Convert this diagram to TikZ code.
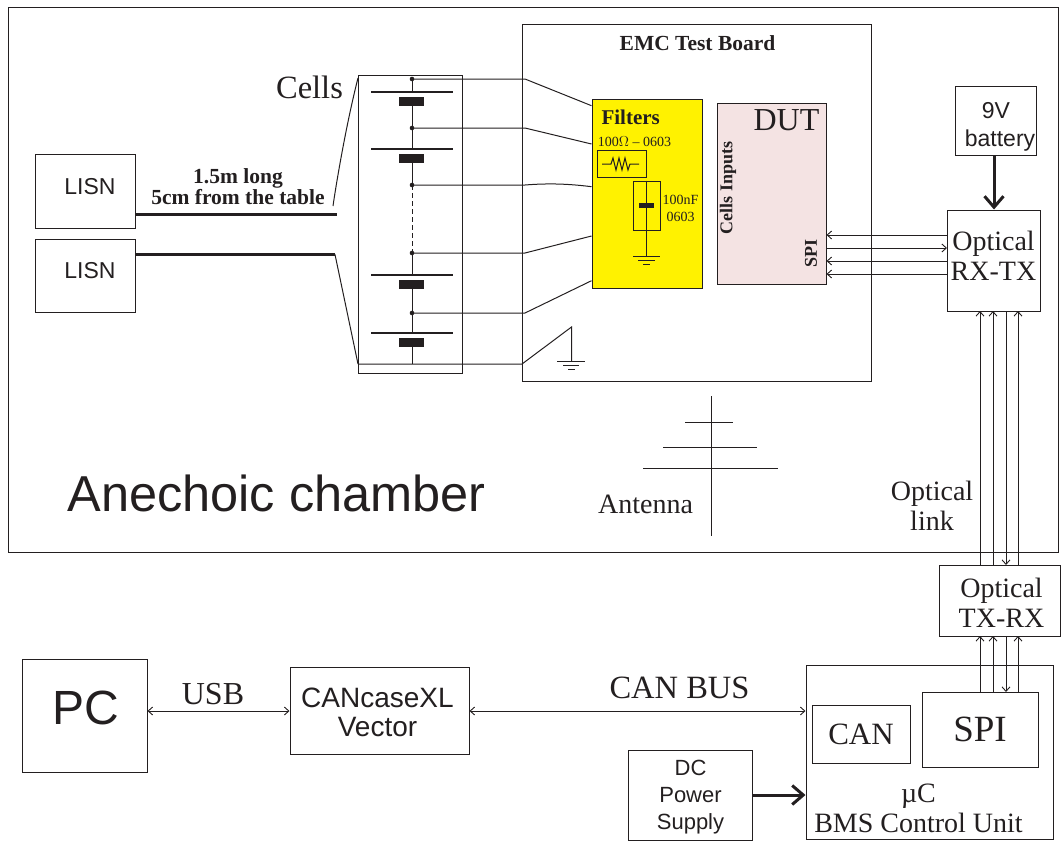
\documentclass[tikz,border=0pt]{standalone}
\usepackage{fontspec}
\setmainfont{Liberation Serif}
\newfontfamily\arialfont{Liberation Sans}
\usepackage{tikz}
\usetikzlibrary{
  arrows.meta,
  calc,
  positioning
}
\definecolor{inkcolor}{HTML}{231F20}
\definecolor{filteryellow}{HTML}{FFF200}
\definecolor{dutpink}{HTML}{F4E3E3}
\newcommand{\fsize}[1]{\fontsize{#1}{1.08\dimexpr#1pt\relax}\selectfont}
\newcommand{\asize}[1]{\fontsize{#1}{1.2\dimexpr#1pt\relax}\selectfont}
\tikzset{>={Straight Barb[length=4.5pt, width=8pt, line width=0.9pt]}}
\tikzset{every node/.style={text=inkcolor, inner sep=0pt, align=center}}
\tikzset{box/.style={draw, line width=1pt}}
\tikzset{sanslabel/.style={font=\arialfont\asize{#1}}}
\tikzset{seriflabel/.style={font=\fsize{#1}}}
\tikzset{boldlabel/.style={font=\bfseries\fsize{#1}}}
\tikzset{thickarrow/.style={line width=3pt, -{Straight Barb[length=11pt, width=19pt, line width=3pt]}}}

\begin{document}
\begin{tikzpicture}[x=1pt, y=-1pt, color=inkcolor, line width=1pt]
          \useasboundingbox (0, 0) rectangle (1061, 841); %
          % chamber and test board
          \draw (8, 7) rectangle (1058.5, 552); %
          \draw (522, 24) rectangle (871, 381); %
          \node[boldlabel=21.5] (boardlabel) at (697.5, 43) {EMC Test Board}; %
          \node[sanslabel=50.5, anchor=base west] (chamberlabel) at (67, 511) {Anechoic chamber}; %
          % LISN and long wires
          \node[box, minimum width=100pt, minimum height=74pt] (lisnA) at (85, 191) {}; %
          \node[box, minimum width=100pt, minimum height=73pt] (lisnB) at (85, 275.5) {}; %
          \node[sanslabel=23] (lisnAlabel) at (90, 187) {LISN}; %
          \node[sanslabel=23] (lisnBlabel) at (90, 271) {LISN}; %
          \coordinate (wireA) at (337, 214); %
          \coordinate (wireB) at (335, 254.5); %
          \draw[line width=3pt] (lisnA.east |- wireA) -- (wireA); %
          \draw[line width=3pt] (lisnB.east |- wireB) -- (wireB); %
          \node[boldlabel=21.5] (wirelabel) at (238, 187) {1.5m long\\[-2pt]5cm from the table}; %
          % cells
          \node[box, minimum width=104pt, minimum height=298pt] (cellbox) at (410, 224.5) {}; %
          \node[seriflabel=32.5] (cellslabel) at (309.5, 87) {Cells}; %
          \coordinate (cellsTop) at (358, 78); %
          \coordinate (cellsBot) at (358, 364); %
          \draw (wireA) ++(-4, -8) .. controls (336, 185) and (346, 125) .. (cellsTop); %
          \draw (wireB) -- (cellsBot); %
          \foreach \y in {92, 149, 275, 333} {
            \draw[line width=1.5pt] (371, \y) -- (453, \y); %
            \fill (399, \y+5) rectangle (424, \y+13.5); %
          }
          \draw (412, 79) -- (412, 92); %
          \draw (412, 105) -- (412, 149); %
          \draw (412, 162) -- (412, 185); %
          \draw[dash pattern=on 5pt off 3pt] (412, 185) -- (412, 253); %
          \draw (412, 253) -- (412, 275); %
          \draw (412, 288) -- (412, 333); %
          \draw (412, 346) -- (412, 364); %
          % filters and DUT
          \node[box, fill=filteryellow, minimum width=110pt, minimum height=189pt] (filters) at (647, 193.5) {}; %
          \node[boldlabel=21, anchor=base west] (filterslabel) at (601, 124) {Filters}; %
          \node[seriflabel=14] (reslabel) at (634.5, 142) {100$\Omega$ -- 0603}; %
          \node[box, minimum width=49pt, minimum height=27pt] (resbox) at (621.5, 163.5) {}; %
          \draw (602, 164) -- (611, 164) -- (613, 158) -- (616, 170) -- (619, 158) -- (622, 170) -- (625, 158) -- (628, 170) -- (630, 164) -- (639, 164); %
          \node[box, minimum width=27pt, minimum height=49pt] (capbox) at (646.5, 205.5) {}; %
          \coordinate (filtergnd) at (646.5, 256); %
          \draw (capbox.north) -- (filtergnd); %
          \fill (639, 203) rectangle (654, 208); %
          \draw (633, 256) -- (660, 256) (638, 260) -- (655, 260) (643, 264) -- (650, 264); %
          \node[seriflabel=14] (caplabel) at (680.5, 208) {100nF\\[2pt]0603}; %
          \node[box, fill=dutpink, minimum width=109pt, minimum height=181pt] (dut) at (771.5, 193.5) {}; %
          \node[seriflabel=32] (dutlabel) at (786.5, 120) {DUT}; %
          \node[boldlabel=18, rotate=90] (inputslabel) at (728, 188) {Cells Inputs}; %
          \node[boldlabel=18, rotate=90] (spilabel) at (811, 253) {SPI}; %
          % wires from cells to filters
          \foreach \ya/\yb in {79/105.7, 128/144, 253/236, 313/280.7} {
            \fill (412, \ya) circle (2.3pt); %
            \draw (412, \ya) -- (525, \ya) -- (filters.west |- 0, \yb); %
          }
          \fill (412, 185) circle (2.3pt); %
          \draw (412, 185) -- (525, 185) .. controls (550, 183) and (570, 184) .. (filters.west |- 0, 186.7); %
          % board ground
          \coordinate (boardgnd) at (571.5, 361); %
          \draw (cellsBot) -- (522, 364) -- (571.5, 327) -- (boardgnd); %
          \draw (557, 361) -- (585, 361) (563, 365) -- (579, 365) (568, 369) -- (575, 369); %
          % optical link
          \node[box, minimum width=93pt, minimum height=101pt] (rxtx) at (994, 260.5) {}; %
          \node[seriflabel=28] (rxtxlabel) at (993.5, 256) {Optical\\RX-TX}; %
          \node[box, minimum width=81pt, minimum height=69pt] (battery) at (995.5, 120.5) {}; %
          \node[sanslabel=23] (batterylabel) at (1000, 127) {\hspace*{-8pt}9V\\battery}; %
          \draw[thickarrow] (battery.south -| rxtx.north) -- (rxtx.north); %
          \draw[->] (rxtx.west |- 0, 235) -- (dut.east |- 0, 235); %
          \draw[<-] (rxtx.west |- 0, 248) -- (dut.east |- 0, 248); %
          \draw[->] (rxtx.west |- 0, 261) -- (dut.east |- 0, 261); %
          \draw[->] (rxtx.west |- 0, 274) -- (dut.east |- 0, 274); %
          \node[box, fill=white, minimum width=121pt, minimum height=71pt] (txrx) at (999.5, 600.5) {}; %
          \node[seriflabel=28] (txrxlabel) at (1001.5, 603) {Optical\\TX-RX}; %
          \foreach \x in {980, 993, 1018} {
            \draw[->] (\x, 565) -- (\x, 311); %
          }
          \draw[<-] (1006, 565) -- (1006, 311); %
          \node[seriflabel=28] (linklabel) at (932, 506) {Optical\\link}; %
          % lower bench
          \node[box, minimum width=125pt, minimum height=113pt] (pc) at (84.5, 715.5) {}; %
          \node[sanslabel=48] (pclabel) at (85.5, 708) {PC}; %
          \node[box, minimum width=179pt, minimum height=87pt] (canxl) at (379.5, 710.5) {}; %
          \node[sanslabel=28] (canxllabel) at (377.5, 712.5) {CANcaseXL\\[-4pt]Vector}; %
          \node[box, minimum width=124pt, minimum height=90pt] (dcsupply) at (690, 795) {}; %
          \node[sanslabel=22] (dclabel) at (690.5, 797) {DC\\[1pt]Power\\[1pt]Supply}; %
          \node[box, minimum width=247pt, minimum height=174pt] (bms) at (929.5, 752.5) {}; %
          \node[box, minimum width=98pt, minimum height=58pt, seriflabel=31] (canblock) at (861, 734) {CAN}; %
          \node[box, minimum width=116pt, minimum height=75pt, seriflabel=37] (spiblock) at (980, 729.5) {SPI}; %
          \node[seriflabel=28] (bmslabel) at (918.5, 808) {µC\\BMS Control Unit}; %
          \draw[<->] (pc.east |- 0, 711) -- (canxl.west |- 0, 711); %
          \node[seriflabel=32] (usblabel) at (213, 694) {USB}; %
          \draw[<->] (canxl.east |- 0, 711) -- (bms.west |- 0, 711); %
          \node[seriflabel=32.5] (canbuslabel) at (679.5, 688) {CAN BUS}; %
          \draw[thickarrow] (dcsupply.east) -- (bms.west |- dcsupply.east); %
          \foreach \x in {980, 993, 1018} {
            \draw[->] (\x, 692) -- (\x, 636); %
          }
          \draw[<-] (1006, 692) -- (1006, 636); %
          % antenna
          \node[seriflabel=28] (antennalabel) at (645.5, 504) {Antenna}; %
          \coordinate (mastTop) at (711, 396); %
          \coordinate (mastBot) at (711, 536); %
          \draw (mastTop) -- (mastBot); %
          \draw (685, 422) -- (733, 422); %
          \draw (663, 447) -- (757, 447); %
          \draw (643, 468) -- (778, 468); %
        \end{tikzpicture}
\end{document}
